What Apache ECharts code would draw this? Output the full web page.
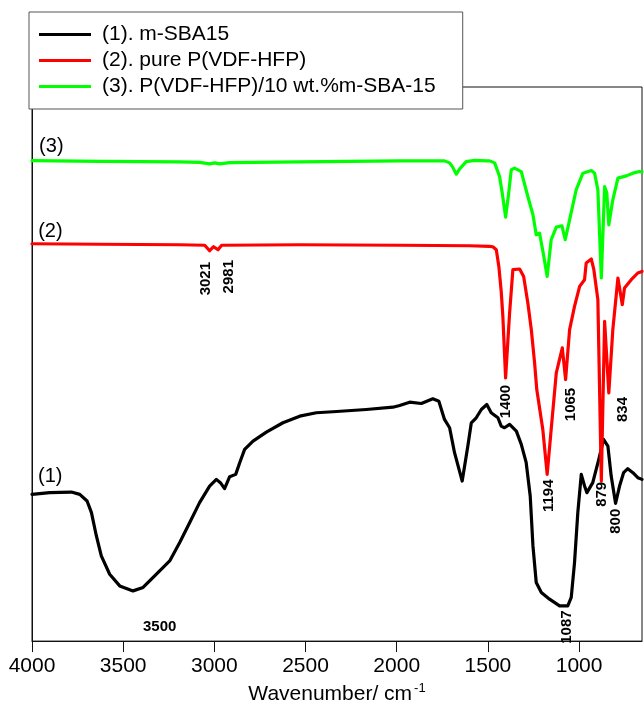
<!DOCTYPE html>
<html><head><meta charset="utf-8">
<script src="https://cdn.jsdelivr.net/npm/echarts@6/dist/echarts.min.js"></script>
<style>html,body{margin:0;padding:0;background:#fff}#c{width:644px;height:710px}</style>
</head><body><div id="c"></div>
<script>
// ---- data (wavenumber in cm-1, transmittance in arbitrary offset units) ----
const seriesNames = ['(1). m-SBA15', '(2). pure P(VDF-HFP)', '(3). P(VDF-HFP)/10 wt.%m-SBA-15'];
const seriesColors = ['#000000', '#ff0000', '#00ff00'];

const blackWn = [4000,3903,3784,3738,3698,3674,3647,3620,3574,3519,3446,3391,3337,3245,3190,3135,3081,3026,2989,2967,2944,2916,2883,2861,2834,2788,2715,2624,2532,2441,2350,2167,2021,1984,1929,1865,1802,1769,1738,1710,1683,1641,1610,1591,1564,1536,1506,1482,1445,1427,1409,1381,1344,1317,1290,1268,1253,1235,1207,1162,1107,1062,1043,1025,1007,988,970,957,925,892,866,842,824,800,778,756,733,705,678,655];
const blackT = [147,148.7,149.3,147,140.3,128.7,105.3,85.3,67,55.3,50.3,53.7,63.7,80.3,98.7,118.7,138.7,155.3,162,158.7,152.7,164.7,167,178.7,192,200.3,209.3,218.7,225.3,228.7,229.7,232,234.3,236,239.3,238,242.7,240.3,222,213.7,188.7,160.3,195.3,218.7,223.7,232,237,228.7,223.7,215.3,213.7,217,210.3,197,178.7,145.3,95.3,58.7,48.7,42,35.3,35.3,43.7,78.7,128.7,167,155.3,148.7,158.7,182,202,195.3,165.3,138,155.3,168.7,172.7,168.7,163.7,162];

const redWn = [4000,3629,3190,3053,3026,3004,2980,2960,2532,1984,1600,1491,1473,1454,1440,1427,1418,1403,1381,1363,1326,1304,1281,1262,1244,1232,1199,1175,1153,1125,1092,1074,1052,1025,997,970,961,933,919,897,878,860,837,815,787,778,763,751,714,678,655];
const redT = [398,397.5,397,396.5,391,395,392,396.5,397,396.5,396,395.3,395,392,375.3,350.3,325.3,263.7,328.7,372,372.7,365.3,338.7,312,278.7,252,212,167,212,268.7,293.7,262,312,335.3,355.3,362,378.7,382.7,372,342,160.3,320.3,248.7,312,363.7,365.3,337,353.7,362,368.7,370.3];

const greenWn = [4000,3629,3190,3081,3026,2998,2971,2916,2532,1984,1738,1710,1694,1673,1655,1619,1573,1507,1491,1463,1454,1436,1420,1403,1387,1372,1354,1317,1281,1253,1235,1217,1195,1175,1153,1125,1094,1076,1052,1016,979,933,915,897,878,860,848,837,815,787,741,705,669,655];
const greenT = [481.3,480.5,480,479.5,478,479,478,479.3,480,481,481,479,475,467.7,473,480.3,481.5,481,481,479,477,465.3,447,424.7,447,472,473.7,470.3,445.3,427,407,408.7,387,365.3,402,414.7,416,402,422,452,468.7,471.3,468.7,452,363.7,455.3,448.7,417,442,463.7,466,468.7,470.3,470];

// peak annotations (vertical text)
const peakText = ['3021','2981','1400','1194','1065','879','834','800','1087'];
const peakWn = [3048,2922,1399,1165,1047,874,762,800,1066];
const peakT = [363,365,240,145.6,237,147,232,120,14];
// horizontal band annotation
const bandText = ['3500'];
const bandWn = [3300];
const bandT = [14.6];
// curve tags
const tagText = ['(1)','(2)','(3)'];
const tagWn = [3900,3899,3894];
const tagT = [165,410.6,495];

const xMin = 655, xMax = 4000, yMin = 0, yMax = 555;
const FONT = '"Liberation Sans", Arial, Helvetica, sans-serif';

function zip(a, b) { return a.map((v, i) => [v, b[i]]); }
function zip3(a, b, c) { return a.map((v, i) => [v, b[i], c[i]]); }

const curves = [[blackWn, blackT], [redWn, redT], [greenWn, greenT]];

const lineSeries = curves.map((c, i) => ({
  name: seriesNames[i],
  type: 'line',
  data: zip(c[0], c[1]),
  showSymbol: false,
  symbol: 'none',
  lineStyle: { color: seriesColors[i], width: 3.2, join: 'round', cap: 'round' },
  itemStyle: { color: seriesColors[i] },
  z: 2 + i,
  animation: false
}));

function labelSeries(name, text, wn, t, rotate, size, weight) {
  return {
    name: name,
    type: 'scatter',
    data: zip3(wn, t, text),
    symbolSize: 0,
    silent: true,
    z: 10,
    animation: false,
    itemStyle: { opacity: 1, color: '#000' },
    label: {
      show: true,
      position: 'inside',
      formatter: p => p.data[2],
      rotate: rotate,
      color: '#000',
      opacity: 1,
      textBorderWidth: 0,
      textBorderColor: 'transparent',
      textShadowBlur: 0,
      fontFamily: FONT,
      fontSize: size,
      fontWeight: weight
    }
  };
}

const chart = echarts.init(document.getElementById('c'), null, { renderer: 'canvas' });
chart.setOption({
  animation: false,
  backgroundColor: '#fff',
  grid: { left: 32, right: 2, top: 87, bottom: 68, show: true, borderColor: '#111', borderWidth: 1, backgroundColor: 'transparent' },
  legend: {
    data: seriesNames,
    orient: 'vertical',
    left: 29, top: 12,
    icon: 'rect',
    itemWidth: 52, itemHeight: 3,
    itemGap: 5,
    padding: [12, 27, 12, 10],
    backgroundColor: '#fff',
    borderColor: '#555',
    borderWidth: 1,
    textStyle: { fontFamily: FONT, fontSize: 21, color: '#000', padding: [0, 0, 0, 6] },
    z: 20
  },
  xAxis: {
    type: 'value',
    inverse: true,
    min: xMin, max: xMax,
    splitNumber: 7,
    name: '{a|Wavenumber/ cm}{b|-1}',
    nameLocation: 'middle',
    nameGap: 40,
    nameTextStyle: {
      rich: {
        a: { fontFamily: FONT, fontSize: 21, color: '#000' },
        b: { fontFamily: FONT, fontSize: 13, color: '#000', padding: [0, 0, 12, 2] }
      }
    },
    axisLine: { show: true, lineStyle: { color: '#111', width: 1 } },
    axisTick: { show: true, inside: false, length: 11, lineStyle: { color: '#111' } },
    axisLabel: { show: true, margin: 15, fontFamily: FONT, fontSize: 21, color: '#000', showMinLabel: false, formatter: v => String(v) },
    splitLine: { show: false }
  },
  yAxis: {
    type: 'value',
    min: yMin, max: yMax,
    axisLine: { show: true, lineStyle: { color: '#111', width: 1 } },
    axisTick: { show: false },
    axisLabel: { show: false },
    splitLine: { show: false }
  },
  series: [
    ...lineSeries,
    labelSeries('peaks', peakText, peakWn, peakT, 90, 15, 'bold'),
    labelSeries('band', bandText, bandWn, bandT, 0, 15, 'bold'),
    labelSeries('tags', tagText, tagWn, tagT, 0, 20, 'normal')
  ]
});
</script></body></html>
